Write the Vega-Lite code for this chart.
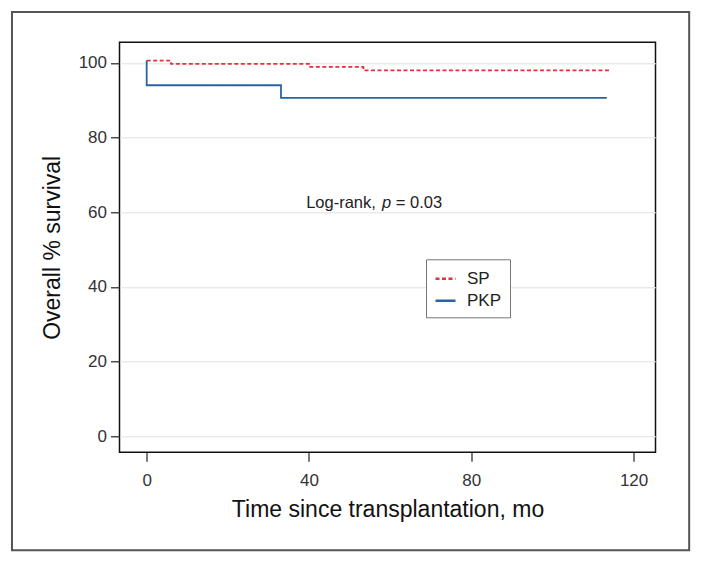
{
  "$schema": "https://vega.github.io/schema/vega-lite/v6.json",
  "width": 536,
  "height": 410,
  "autosize": {"type": "none"},
  "padding": {"left": 119.5, "top": 42.3, "right": 46.5, "bottom": 110.7},
  "background": "white",
  "config": {
    "view": {"stroke": "#111", "strokeWidth": 1.5},
    "font": "Liberation Sans"
  },
  "layer": [
    {
      "data": {"values": [{"x1": -33.2, "x2": 133.7, "y1": 113.6, "y2": -30.5}]},
      "mark": {"type": "rect", "clip": false, "fill": null, "stroke": "#555", "strokeWidth": 2},
      "encoding": {
        "x": {"field": "x1", "type": "quantitative", "scale": {"domain": [-6.7, 125.4], "nice": false, "zero": false}},
        "x2": {"field": "x2"},
        "y": {"field": "y1", "type": "quantitative", "scale": {"domain": [-4.3, 105.5], "nice": false, "zero": false}},
        "y2": {"field": "y2"}
      }
    },
    {
      "data": {"values": [
        {"group": "SP", "time": 0, "survival": 100.6, "ord": 1},
        {"group": "SP", "time": 6.0, "survival": 99.7, "ord": 2},
        {"group": "SP", "time": 40.3, "survival": 98.9, "ord": 3},
        {"group": "SP", "time": 53.4, "survival": 98.0, "ord": 4},
        {"group": "SP", "time": 114.4, "survival": 98.0, "ord": 5},
        {"group": "PKP", "time": 0, "survival": 100.6, "ord": 1},
        {"group": "PKP", "time": 0, "survival": 94.0, "ord": 2},
        {"group": "PKP", "time": 33.1, "survival": 90.6, "ord": 3},
        {"group": "PKP", "time": 113.4, "survival": 90.6, "ord": 4}
      ]},
      "mark": {"type": "line", "interpolate": "step-after", "strokeWidth": 1.8},
      "encoding": {
        "x": {
          "field": "time", "type": "quantitative",
          "scale": {"domain": [-6.7, 125.4], "nice": false, "zero": false},
          "axis": {
            "values": [0, 40, 80, 120], "grid": false, "domain": false,
            "tickColor": "#222", "tickSize": 9, "tickWidth": 1.2,
            "labelFontSize": 17, "labelColor": "#333", "labelPadding": 11,
            "title": "Time since transplantation, mo", "titleFontSize": 23,
            "titleFontWeight": "normal", "titleColor": "#111", "titlePadding": 10
          }
        },
        "y": {
          "field": "survival", "type": "quantitative",
          "scale": {"domain": [-4.3, 105.5], "nice": false, "zero": false},
          "axis": {
            "values": [0, 20, 40, 60, 80, 100], "grid": true, "gridColor": "#e2e2e2", "gridWidth": 1,
            "domain": false, "tickColor": "#222", "tickSize": 9, "tickWidth": 1.2,
            "labelFontSize": 17, "labelColor": "#333", "labelPadding": 4,
            "title": "Overall % survival", "titleFontSize": 23,
            "titleFontWeight": "normal", "titleColor": "#111", "titlePadding": 14
          }
        },
        "color": {
          "field": "group", "type": "nominal",
          "scale": {"domain": ["SP", "PKP"], "range": ["#e8303a", "#2a63a1"]},
          "legend": {
            "title": null, "orient": "none", "legendX": 306.5, "legendY": 217,
            "symbolType": "stroke", "symbolSize": 400, "symbolStrokeWidth": 2.5,
            "labelFontSize": 17, "labelColor": "#222", "labelOffset": 10,
            "padding": 8, "rowPadding": 2, "strokeColor": "#777", "fillColor": "white"
          }
        },
        "strokeDash": {
          "field": "group", "type": "nominal",
          "scale": {"domain": ["SP", "PKP"], "range": [[4, 2.5], [1, 0]]},
          "legend": null
        },
        "order": {"field": "ord", "type": "quantitative"}
      }
    },
    {
      "data": {"values": [{"x": 39.3, "y": 61.2, "t": "Log-rank,"}]},
      "mark": {"type": "text", "align": "left", "baseline": "alphabetic", "fontSize": 16.5, "color": "#222"},
      "encoding": {
        "x": {"field": "x", "type": "quantitative"},
        "y": {"field": "y", "type": "quantitative"},
        "text": {"field": "t"}
      }
    },
    {
      "data": {"values": [{"x": 58.0, "y": 61.2, "t": "p"}]},
      "mark": {"type": "text", "align": "left", "baseline": "alphabetic", "fontSize": 16.5, "fontStyle": "italic", "color": "#222"},
      "encoding": {
        "x": {"field": "x", "type": "quantitative"},
        "y": {"field": "y", "type": "quantitative"},
        "text": {"field": "t"}
      }
    },
    {
      "data": {"values": [{"x": 61.4, "y": 61.2, "t": "= 0.03"}]},
      "mark": {"type": "text", "align": "left", "baseline": "alphabetic", "fontSize": 16.5, "color": "#222"},
      "encoding": {
        "x": {"field": "x", "type": "quantitative"},
        "y": {"field": "y", "type": "quantitative"},
        "text": {"field": "t"}
      }
    }
  ]
}
